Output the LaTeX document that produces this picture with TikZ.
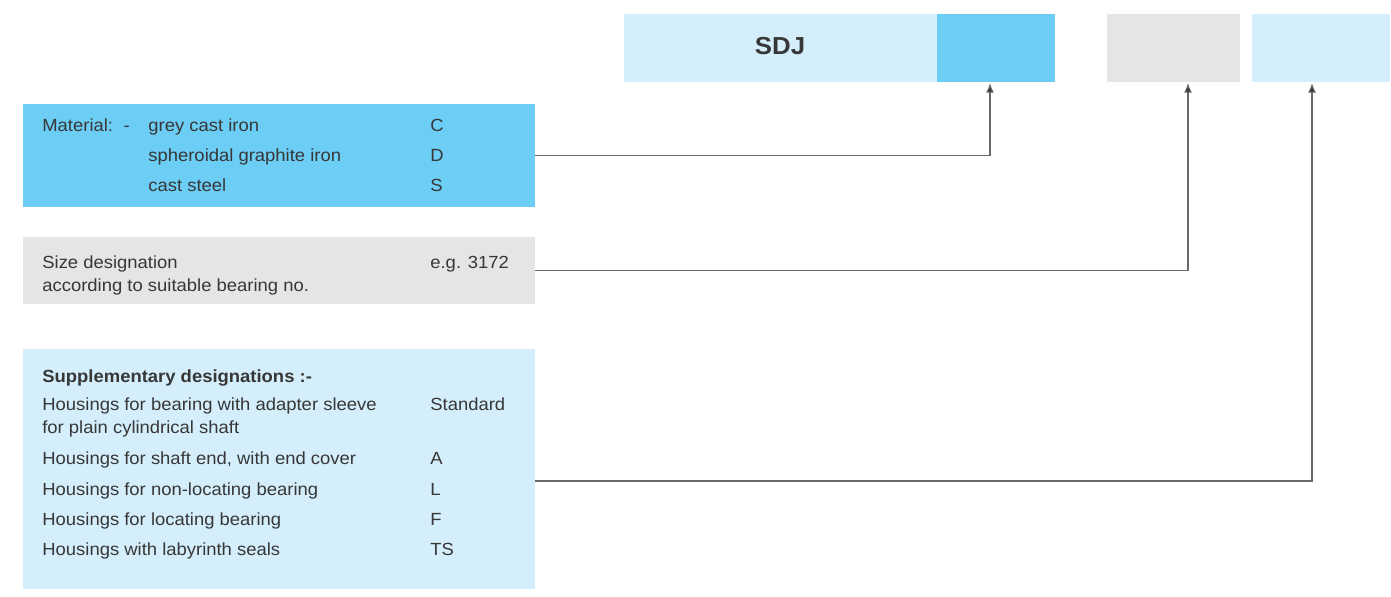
\documentclass[tikz,border=0pt]{standalone}
\usepackage{fontspec}
\setmainfont[FakeStretch=1.05]{Liberation Sans}
\usetikzlibrary{positioning,arrows.meta}
\definecolor{darkblue}{RGB}{108,205,245}
\definecolor{lightblue}{RGB}{212,238,251}
\definecolor{greybox}{RGB}{228,229,231}
\definecolor{textgrey}{RGB}{55,55,55}
\definecolor{linegrey}{RGB}{105,105,105}
\tikzset{
  block/.style={inner sep=0pt, outer sep=0pt, anchor=north west},
  txt/.style={inner sep=0pt, anchor=base west, text=textgrey, font=\fontsize{10}{12}\selectfont},
  conn/.style={draw=linegrey, line width=0.65pt, -{Latex[length=5.5pt,width=4.5pt,fill=black!80]}},
}
\begin{document}
\begin{tikzpicture}[x=0.02cm, y=-0.02cm]
\useasboundingbox (0,0) rectangle (1391,596);
% code fields
\node[block, fill=lightblue, minimum width=6.26cm, minimum height=1.36cm] (sdj) at (624,14) {};
\node[txt, anchor=center, font=\bfseries\fontsize{14}{16}\selectfont] (sdjtxt) at (780,46) {SDJ};
\node[block, fill=darkblue, minimum width=2.36cm, minimum height=1.36cm, right=0pt of sdj] (fmat) {};
\node[block, fill=greybox, minimum width=2.66cm, minimum height=1.36cm] (fsize) at (1107,14) {};
\node[block, fill=lightblue, minimum width=2.76cm, minimum height=1.36cm] (fsupp) at (1252,14) {};
% description boxes
\node[block, fill=darkblue, minimum width=10.24cm, minimum height=2.06cm] (mat) at (23,104) {};
\node[block, fill=greybox, minimum width=10.24cm, minimum height=1.34cm] (size) at (23,237) {};
\node[block, fill=lightblue, minimum width=10.24cm, minimum height=4.8cm] (supp) at (23,349) {};
% material
\node[txt] (m1) at (42,131) {Material:\hspace{0.6em}-};
\node[txt] (m2) at (148,131) {grey cast iron};
\node[txt] (m3) at (148,161) {spheroidal graphite iron};
\node[txt] (m4) at (148,191) {cast steel};
\node[txt] (mc1) at (430,131) {C};
\node[txt] (mc2) at (430,161) {D};
\node[txt] (mc3) at (430,191) {S};
% size
\node[txt] (s1) at (42,268) {Size designation};
\node[txt] (s2) at (42,291) {according to suitable bearing no.};
\node[txt] (sc1) at (430,268) {e.g. 3172};
% supplementary
\node[txt, font=\bfseries\fontsize{10}{12}\selectfont] (h0) at (42,382) {Supplementary designations :-};
\node[txt] (h1) at (42,410) {Housings for bearing with adapter sleeve};
\node[txt] (h1b) at (42,433) {for plain cylindrical shaft};
\node[txt] (h2) at (42,464) {Housings for shaft end, with end cover};
\node[txt] (h3) at (42,495) {Housings for non-locating bearing};
\node[txt] (h4) at (42,525) {Housings for locating bearing};
\node[txt] (h5) at (42,555) {Housings with labyrinth seals};
\node[txt] (hc1) at (430,410) {Standard};
\node[txt] (hc2) at (430,464) {A};
\node[txt] (hc3) at (430,495) {L};
\node[txt] (hc4) at (430,525) {F};
\node[txt] (hc5) at (430,555) {TS};
% connectors
\coordinate (t1) at (990,83);
\coordinate (t2) at (1188,83);
\coordinate (t3) at (1312,83);
\coordinate (e3) at (535,481);
\draw[conn] (mat.east) -| (t1);
\draw[conn] (size.east) -| (t2);
\draw[conn] (e3) -| (t3);
\end{tikzpicture}
\end{document}
